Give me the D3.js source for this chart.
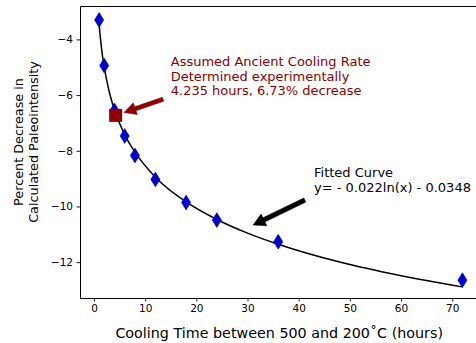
<!DOCTYPE html>
<html>
<head>
<meta charset="utf-8">
<script src="https://cdn.jsdelivr.net/npm/d3@7"></script>
<style>
  html, body { margin: 0; padding: 0; background: #fff; }
  svg { display: block; overflow: hidden; }
  text { font-family: "DejaVu Sans", sans-serif; }
</style>
</head>
<body>
<svg id="chart" width="476" height="343"></svg>
<script>
// ---- data ----
const timeX    = [1, 2, 4, 6, 8, 12, 18, 24, 36, 72];
const decrease = [-3.30, -4.94, -6.55, -7.47, -8.17, -9.03, -9.86, -10.49, -11.27, -12.65];

const curveX = [1, 1.25, 1.5, 2, 3, 4, 6, 8, 12, 18, 24, 30, 36, 48, 60, 72];
const curveY = [-3.46, -3.95, -4.37, -5.0, -5.90, -6.53, -7.42, -8.05, -8.95, -9.84, -10.47, -10.96, -11.36, -12.0, -12.49, -12.89];

const ancientX = [4.235];
const ancientY = [-6.73];

const xTicks = [0, 10, 20, 30, 40, 50, 60, 70];
const yTicks = [-12, -10, -8, -6, -4];

const redNote   = ["Assumed Ancient Cooling Rate", "Determined experimentally", "4.235 hours, 6.73% decrease"];
const blackNote = ["Fitted Curve", "y= - 0.022ln(x) - 0.0348"];
const xLabel = "Cooling Time between 500 and 200\u02DAC (hours)";
const yLabel = ["Percent Decrease in", "Calculated Paleointensity"];

// annotation anchors in data units [x, y]
const redArrow   = { tail: [13.5, -6.15], tip: [5.86, -6.63] };
const redTextAt  = [15.0, -4.96];
const blkArrow   = { tail: [41.2, -9.77], tip: [31.1, -10.67] };
const blkTextAt  = [43.0, -8.95];

// ---- layout ----
const svg = d3.select("#chart");
const L = 80, R = 481, T = 6, B = 298;
const x = d3.scaleLinear().domain([-2.736, 75.63]).range([L, R]);
const y = d3.scaleLinear().domain([-13.29, -2.80]).range([B, T]);
const darkred = "#8b0000";
const blue = "#0000cd";

// axes
const gx = svg.append("g").attr("transform", `translate(0,${B})`)
  .call(d3.axisBottom(x).tickValues(xTicks).tickSize(3.5).tickPadding(3.5).tickFormat(d3.format("d")));
const gy = svg.append("g").attr("transform", `translate(${L},0)`)
  .call(d3.axisLeft(y).tickValues(yTicks).tickSize(3.5).tickPadding(3.5).tickFormat(d => "\u2212" + Math.abs(d)));
[gx, gy].forEach(g => {
  g.select(".domain").remove();
  g.selectAll(".tick line").attr("stroke", "#000").attr("stroke-width", 0.9);
  g.selectAll(".tick text").attr("font-size", "10.5px").attr("fill", "#000")
    .style("font-family", "'DejaVu Sans', sans-serif");
});

// spines (top, left, bottom; right lies outside the picture)
svg.append("path")
  .attr("d", `M${R + 0.5},${T + 0.5}H${L + 0.5}V${B + 0.5}H${R + 0.5}`)
  .attr("fill", "none").attr("stroke", "#000").attr("stroke-width", 1);

// fitted curve
const line = d3.line().x((d, i) => x(curveX[i])).y(d => y(d)).curve(d3.curveMonotoneX);
svg.append("path").datum(curveY).attr("d", line)
  .attr("fill", "none").attr("stroke", "#000").attr("stroke-width", 1.5);

// diamonds
const dia = "M0,-7.4L4.6,0L0,7.4L-4.6,0Z";
svg.append("g").selectAll("path").data(decrease).join("path")
  .attr("d", dia)
  .attr("transform", (d, i) => `translate(${x(timeX[i])},${y(d)})`)
  .attr("fill", blue).attr("stroke", blue).attr("stroke-width", 0.6);

// ancient square
svg.append("g").selectAll("rect").data(ancientY).join("rect")
  .attr("x", (d, i) => x(ancientX[i]) - 6.5).attr("y", d => y(d) - 6.5)
  .attr("width", 13).attr("height", 13).attr("fill", darkred);

// arrows
function arrow(a, color, w, hw, hl) {
  const T0 = [x(a.tail[0]), y(a.tail[1])], P = [x(a.tip[0]), y(a.tip[1])];
  const dx = P[0] - T0[0], dy = P[1] - T0[1], len = Math.hypot(dx, dy);
  const u = [dx / len, dy / len], n = [-u[1], u[0]];
  const H = [P[0] - u[0] * hl, P[1] - u[1] * hl];
  const pts = [
    [T0[0] + n[0] * w, T0[1] + n[1] * w],
    [H[0] + n[0] * w, H[1] + n[1] * w],
    [H[0] + n[0] * hw, H[1] + n[1] * hw],
    P,
    [H[0] - n[0] * hw, H[1] - n[1] * hw],
    [H[0] - n[0] * w, H[1] - n[1] * w],
    [T0[0] - n[0] * w, T0[1] - n[1] * w]
  ];
  svg.append("path").attr("d", "M" + pts.map(p => p.join(",")).join("L") + "Z")
    .attr("fill", color).attr("stroke", color).attr("stroke-width", 0.5);
}
arrow(redArrow, darkred, 2.1, 6.2, 12);
arrow(blkArrow, "#000", 2.3, 6.5, 12);

// annotation texts
function note(lines, at, color) {
  const t = svg.append("text").attr("x", x(at[0])).attr("y", y(at[1]))
    .attr("font-size", "13px").attr("fill", color);
  lines.forEach((s, i) => t.append("tspan").attr("x", x(at[0])).attr("dy", i ? 14.4 : 0).text(s));
}
note(redNote, redTextAt, darkred);
note(blackNote, blkTextAt, "#000");

// axis labels
svg.append("text").attr("x", 279.2).attr("y", 338).attr("text-anchor", "middle")
  .attr("font-size", "14.3px").attr("fill", "#000").text(xLabel);
const yl = svg.append("text").attr("transform", `translate(0,142) rotate(-90)`)
  .attr("text-anchor", "middle").attr("font-size", "12.8px").attr("fill", "#000");
yl.append("tspan").attr("x", 0).attr("y", 22.5).text(yLabel[0]);
yl.append("tspan").attr("x", 0).attr("y", 37.5).text(yLabel[1]);
</script>
</body>
</html>
